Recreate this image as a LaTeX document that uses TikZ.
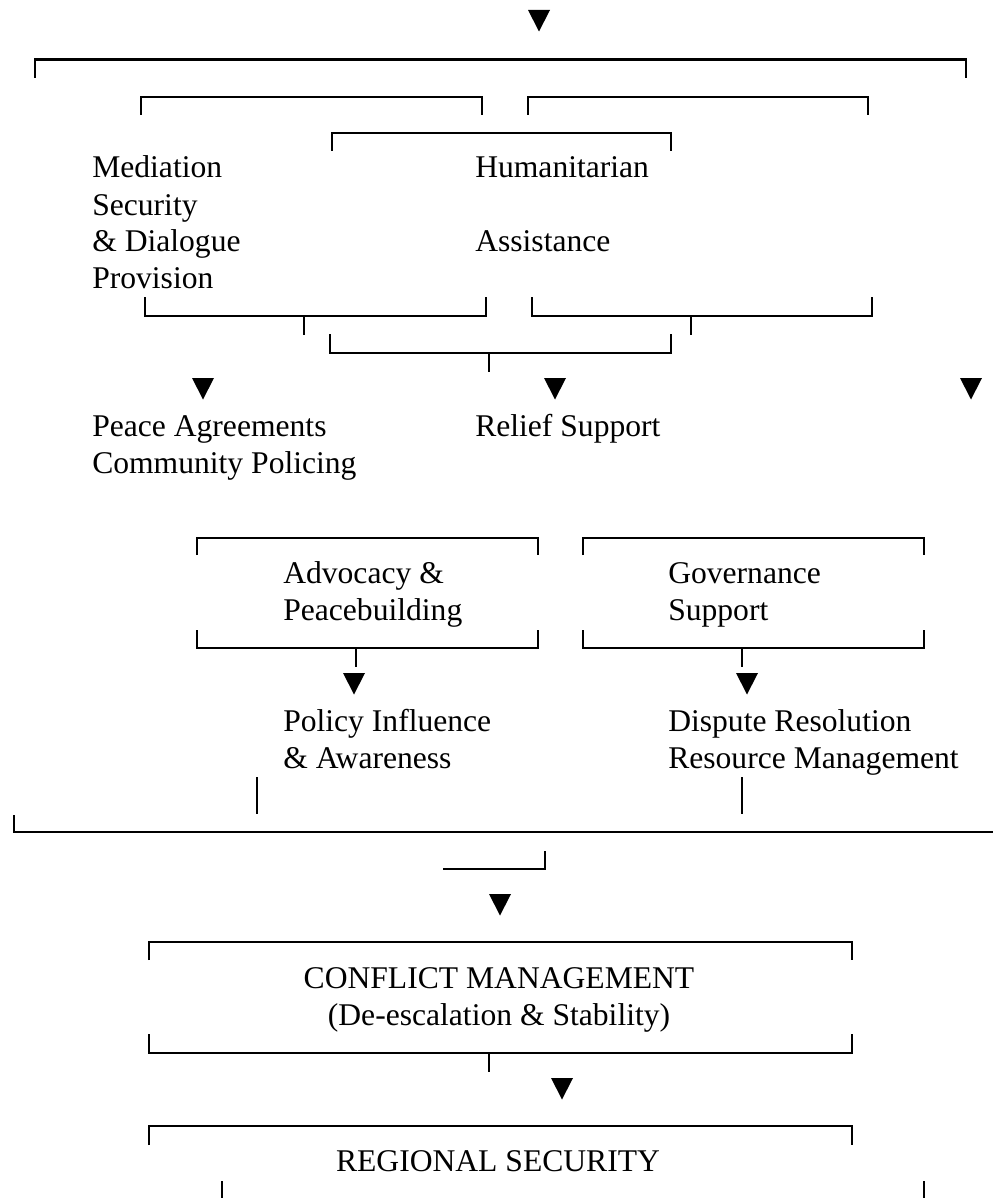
\documentclass[tikz,border=0pt]{standalone}
\usepackage{fontspec}
\setmainfont{Liberation Serif}
\begin{document}
\begin{tikzpicture}[x=0.75pt,y=-0.75pt,
  br/.style={line width=1.7pt,line join=miter},
  tk/.style={line width=1.5pt},
  lbl/.style={inner sep=0pt,anchor=base west,font=\fontsize{23.7}{27.5}\selectfont},
  clbl/.style={inner sep=0pt,anchor=base,font=\fontsize{23.7}{27.5}\selectfont},
  downtri/.pic={\fill (-11,0) -- (11,0) -- (0,21.5) -- cycle;}]
\useasboundingbox (0,0) rectangle (993,1198);
% top
\pic at (539,10) {downtri};
\draw[br] (35,78) -- (35,59.5) -- (966,59.5) -- (966,78);
\draw[br] (141,115) -- (141,97) -- (482,97) -- (482,115);
\draw[br] (528,115) -- (528,97) -- (868,97) -- (868,115);
\draw[br] (332,151) -- (332,133) -- (671,133) -- (671,151);
\node[lbl] (med) at (92,178) {Mediation};
\node[lbl] (sec) at (92,215) {Security};
\node[lbl] (dia) at (92,251.7) {\& Dialogue};
\node[lbl] (prov) at (92,288) {Provision};
\node[lbl] (hum) at (475,178) {Humanitarian};
\node[lbl] (ass) at (475,251.7) {Assistance};
\draw[br] (145,297) -- (145,316) -- (486,316) -- (486,297);
\draw[tk] (304,316) -- (304,335);
\draw[br] (532,297) -- (532,316) -- (872,316) -- (872,297);
\draw[tk] (691,316) -- (691,335);
\draw[br] (330,334) -- (330,353) -- (671,353) -- (671,334);
\draw[tk] (489,353) -- (489,372);
\pic at (203,378) {downtri};
\pic at (555,378) {downtri};
\pic at (971,378) {downtri};
\node[lbl] (pa) at (92,436.7) {Peace Agreements};
\node[lbl] (cp) at (92,473) {Community Policing};
\node[lbl] (rs) at (475,436.7) {Relief Support};
% middle
\draw[br] (197,555) -- (197,538) -- (538,538) -- (538,555);
\draw[br] (583,555) -- (583,538) -- (924,538) -- (924,555);
\node[lbl] (adv) at (283,583) {Advocacy \&};
\node[lbl] (pb) at (283,620) {Peacebuilding};
\node[lbl] (gov) at (668,583) {Governance};
\node[lbl] (sup) at (668,620) {Support};
\draw[br] (197,630) -- (197,648) -- (538,648) -- (538,630);
\draw[tk] (356,648) -- (356,667);
\draw[br] (583,630) -- (583,648) -- (924,648) -- (924,630);
\draw[tk] (742,648) -- (742,667);
\pic at (354,673) {downtri};
\pic at (747,673) {downtri};
\node[lbl] (pi) at (283,731) {Policy Influence};
\node[lbl] (aw) at (283,768) {\& Awareness};
\node[lbl] (dr) at (668,731) {Dispute Resolution};
\node[lbl] (rm) at (668,768) {Resource Management};
\draw[tk] (257,777) -- (257,814);
\draw[tk] (742,777) -- (742,814);
\draw[br] (14,815) -- (14,832) -- (993,832);
\draw[br] (443,869) -- (545,869) -- (545,851);
\pic at (500,894) {downtri};
% bottom
\draw[br] (149,960) -- (149,942) -- (852,942) -- (852,960);
\node[clbl] (cm) at (499,988) {CONFLICT MANAGEMENT};
\node[clbl] (de) at (499,1025) {(De-escalation \& Stability)};
\draw[br] (149,1034) -- (149,1052.7) -- (852,1052.7) -- (852,1034);
\draw[tk] (489,1053) -- (489,1072);
\pic at (562,1078) {downtri};
\draw[br] (149,1145) -- (149,1126) -- (852,1126) -- (852,1145);
\node[clbl] (reg) at (498,1171.7) {REGIONAL SECURITY};
\draw[tk] (221.5,1181) -- (221.5,1198);
\draw[tk] (924,1181) -- (924,1198);
\end{tikzpicture}
\end{document}
